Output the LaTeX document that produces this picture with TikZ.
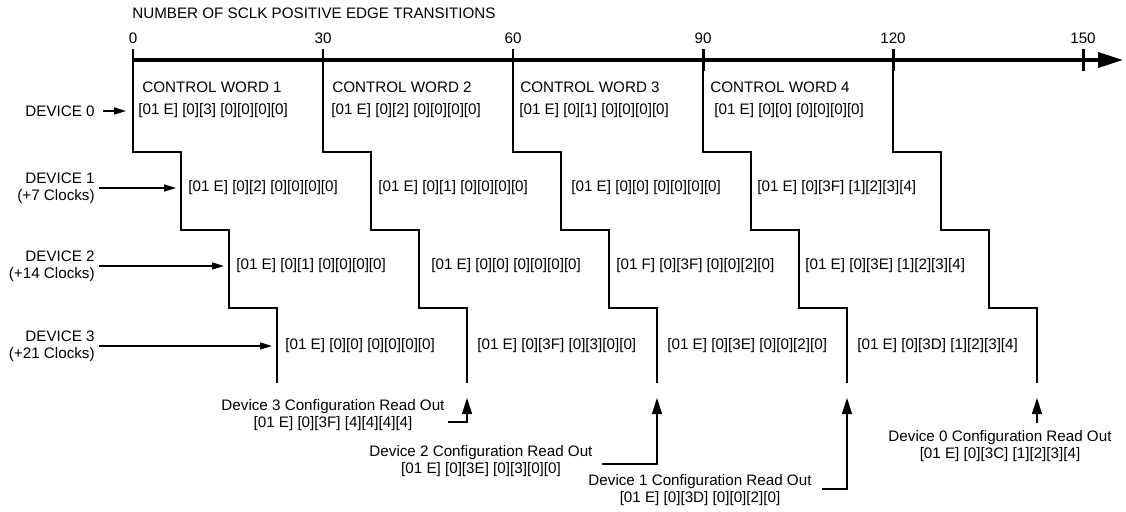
\documentclass[tikz,border=0pt]{standalone}
\usepackage{fontspec}
\setmainfont{Liberation Sans}
\usepackage{tikz}
\usetikzlibrary{arrows.meta}
\usetikzlibrary{positioning}
\usetikzlibrary{calc}
\tikzstyle{txt} = [inner sep = 0pt, font = \fontsize{8.65}{9.8}\selectfont]
\tikzstyle{data} = [txt, anchor = west]
\tikzstyle{dev} = [txt, anchor = east, align = right]
\tikzstyle{readout} = [txt, align = center]
\tikzstyle{stair} = [line width = 0.75pt]
\tikzstyle{arrow} = [line width = 0.75pt, -{Triangle[length = 0.24cm, width = 0.14cm]}]
\tikzstyle{readarrow} = [line width = 0.75pt, -{Triangle[length = 0.32cm, width = 0.2cm]}]
\tikzstyle{axis} = [line width = 2pt, -{Triangle[length = 0.5cm, width = 0.3cm]}]

\begin{document}
\begin{tikzpicture}[x = 0.02cm, y = -0.02cm]
		\useasboundingbox (0, 0) rectangle (1126, 511);
		
		% Time axis
		\node[txt, anchor = west] (title) at (132, 13) {NUMBER OF SCLK POSITIVE EDGE TRANSITIONS};
		\foreach \v [count = \i from 0] in {0, 30, 60, 90, 120, 150} {
			\coordinate (t\i) at (133 + 190*\i, 60);
			\draw[line width = 1.7pt] ($(t\i) + (0, -11)$) -- ($(t\i) + (0, 11)$);
			\node[txt, above = 0.33cm of t\i] (l\i) {\v};
		}
		\coordinate (tend) at (1123, 60);
		\draw[axis] (t0) -- (tend);
		
		% Stairs
		\foreach \c in {0, ..., 4} {
			\draw[stair] (t\c) -- ++(0, 92) -- ++(48, 0) -- ++(0, 78) -- ++(48, 0) -- ++(0, 78) -- ++(48, 0) -- ++(0, 75) coordinate (b\c);
		}
		
		% Control words
		\node[data] (cw1) at ($(t0) + (9, 27)$) {CONTROL WORD 1};
		\node[data] (cw2) at ($(t1) + (9, 27)$) {CONTROL WORD 2};
		\node[data] (cw3) at ($(t2) + (7, 27)$) {CONTROL WORD 3};
		\node[data] (cw4) at ($(t3) + (7, 27)$) {CONTROL WORD 4};
		
		% Device 0
		\node[data] (d0w1) at ($(t0) + (5, 51)$) {[01 E] [0][3] [0][0][0][0]};
		\node[data] (d0w2) at ($(t1) + (8, 51)$) {[01 E] [0][2] [0][0][0][0]};
		\node[data] (d0w3) at ($(t2) + (6, 51)$) {[01 E] [0][1] [0][0][0][0]};
		\node[data] (d0w4) at ($(t3) + (11, 51)$) {[01 E] [0][0] [0][0][0][0]};
		% Device 1
		\node[data] (d1w1) at ($(t0) + (55, 128)$) {[01 E] [0][2] [0][0][0][0]};
		\node[data] (d1w2) at ($(t1) + (55, 128)$) {[01 E] [0][1] [0][0][0][0]};
		\node[data] (d1w3) at ($(t2) + (58, 128)$) {[01 E] [0][0] [0][0][0][0]};
		\node[data] (d1w4) at ($(t3) + (54, 128)$) {[01 E] [0][3F] [1][2][3][4]};
		% Device 2
		\node[data] (d2w1) at ($(t0) + (103, 206)$) {[01 E] [0][1] [0][0][0][0]};
		\node[data] (d2w2) at ($(t1) + (108, 206)$) {[01 E] [0][0] [0][0][0][0]};
		\node[data] (d2w3) at ($(t2) + (103, 206)$) {[01 F] [0][3F] [0][0][2][0]};
		\node[data] (d2w4) at ($(t3) + (102, 206)$) {[01 E] [0][3E] [1][2][3][4]};
		% Device 3
		\node[data] (d3w1) at ($(t0) + (152, 286)$) {[01 E] [0][0] [0][0][0][0]};
		\node[data] (d3w2) at ($(t1) + (154, 286)$) {[01 E] [0][3F] [0][3][0][0]};
		\node[data] (d3w3) at ($(t2) + (154, 286)$) {[01 E] [0][3E] [0][0][2][0]};
		\node[data] (d3w4) at ($(t3) + (154, 286)$) {[01 E] [0][3D] [1][2][3][4]};
		
		% Device inputs
		\node[dev] (dev0) at (95, 111) {DEVICE 0};
		\node[dev] (dev1) at (95, 188) {DEVICE 1\\(+7 Clocks)};
		\node[dev] (dev2) at (95, 266) {DEVICE 2\\(+14 Clocks)};
		\node[dev] (dev3) at (95, 346) {DEVICE 3\\(+21 Clocks)};
		\coordinate (in0) at ($(t0) + (-7, 51)$);
		\coordinate (in1) at ($(t0) + (43, 128)$);
		\coordinate (in2) at ($(t0) + (91, 206)$);
		\coordinate (in3) at ($(t0) + (139, 286)$);
		\draw[arrow, shorten < = 0.16cm] (dev0.east) -- (in0);
		\draw[arrow, shorten < = 0.08cm] (dev1.east) -- (in1);
		\draw[arrow, shorten < = 0.08cm] (dev2.east) -- (in2);
		\draw[arrow, shorten < = 0.08cm] (dev3.east) -- (in3);
		
		% Read outs
		\node[readout] (ro3) at (333, 415) {Device 3 Configuration Read Out\\{}[01 E] [0][3F] [4][4][4][4]};
		\node[readout] (ro2) at (481, 461) {Device 2 Configuration Read Out\\{}[01 E] [0][3E] [0][3][0][0]};
		\node[readout] (ro1) at (700, 490) {Device 1 Configuration Read Out\\{}[01 E] [0][3D] [0][0][2][0]};
		\node[readout] (ro0) at (1000, 446) {Device 0 Configuration Read Out\\{}[01 E] [0][3C] [1][2][3][4]};
		\foreach \c in {1, ..., 4} {
			\coordinate[below = 0.3cm of b\c] (tip\c);
		}
		\coordinate (s3) at (448, 422);
		\coordinate (s2) at (602, 464);
		\coordinate (s1) at (822, 489);
		\coordinate (s0) at ($(tip4) + (0, 25)$);
		\draw[readarrow] (s3) -| (tip1);
		\draw[readarrow] (s2) -| (tip2);
		\draw[readarrow] (s1) -| (tip3);
		\draw[readarrow] (s0) -- (tip4);
		
\end{tikzpicture}
\end{document}
